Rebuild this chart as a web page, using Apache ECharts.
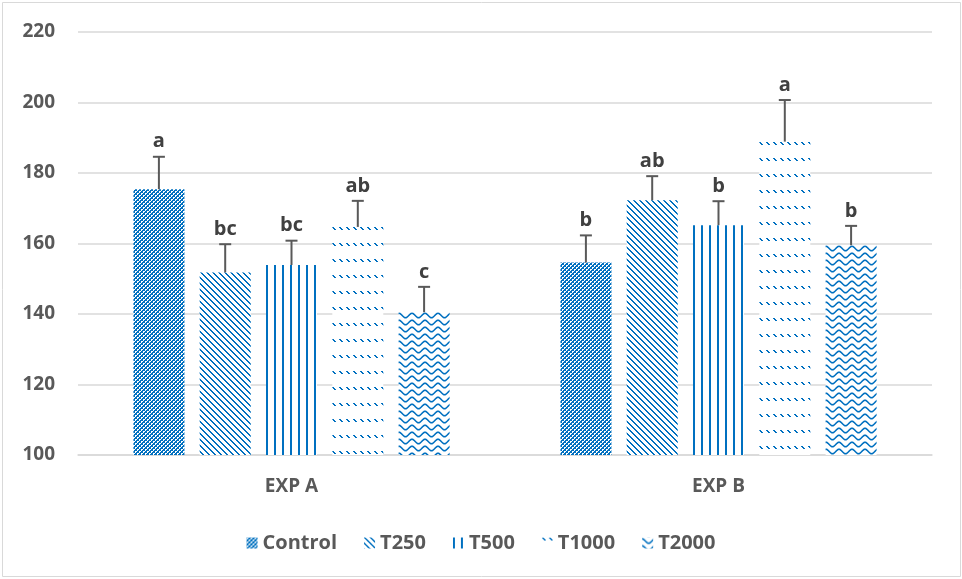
<!DOCTYPE html>
<html>
<head>
<meta charset="utf-8">
<script src="https://cdn.jsdelivr.net/npm/echarts@6/dist/echarts.min.js"></script>
<style>
  html, body { margin: 0; padding: 0; background: #ffffff; }
  #chart { width: 962px; height: 579px; }
</style>
</head>
<body>
<div id="chart"></div>
<script>
// Experiments on the x axis
const categories = ['EXP A', 'EXP B'];

// Treatment names (legend order)
const treatments = ['Control', 'T250', 'T500', 'T1000', 'T2000'];

// Mean values per treatment, one value per experiment
const controlMean = [175.4, 154.6];
const t250Mean    = [151.8, 172.3];
const t500Mean    = [153.9, 165.2];
const t1000Mean   = [164.7, 188.9];
const t2000Mean   = [140.5, 159.5];

// Upper error (standard error) per treatment
const controlErr = [9.2, 7.7];
const t250Err    = [8.0, 6.8];
const t500Err    = [6.9, 6.8];
const t1000Err   = [7.4, 11.8];
const t2000Err   = [7.2, 5.5];

// Significance letters
const controlLetters = ['a', 'b'];
const t250Letters    = ['bc', 'ab'];
const t500Letters    = ['bc', 'b'];
const t1000Letters   = ['ab', 'a'];
const t2000Letters   = ['c', 'b'];

// Y axis ticks
const yTicks = [100, 120, 140, 160, 180, 200, 220];

const means   = [controlMean, t250Mean, t500Mean, t1000Mean, t2000Mean];
const errs    = [controlErr, t250Err, t500Err, t1000Err, t2000Err];
const letters = [controlLetters, t250Letters, t500Letters, t1000Letters, t2000Letters];

const BLUE = '#0070C0';
const FONT = '"Open Sans", "Noto Sans", sans-serif';

// ---- fill patterns -------------------------------------------------------
function tile(w, h, draw) {
  const c = document.createElement('canvas');
  c.width = w; c.height = h;
  const ctx = c.getContext('2d');
  ctx.fillStyle = '#ffffff';
  ctx.fillRect(0, 0, w, h);
  ctx.fillStyle = BLUE;
  ctx.strokeStyle = BLUE;
  draw(ctx);
  return c;
}

const patterns = [
  // small checker board
  tile(4, 4, ctx => {
    ctx.fillRect(0, 0, 4, 4);
    ctx.fillStyle = '#ffffff';
    ctx.fillRect(0, 0, 2, 2);
    ctx.fillRect(2, 2, 2, 2);
    ctx.fillStyle = BLUE;
    ctx.fillRect(1, 1, 1, 1);
    ctx.fillRect(3, 3, 1, 1);
  }),
  // downward diagonal
  tile(6, 6, ctx => {
    for (let i = 0; i < 6; i++) {
      ctx.fillRect(i, i, 1, 1);
      ctx.fillRect((i + 1) % 6, i, 1, 1);
    }
  }),
  // vertical stripes
  tile(8, 1, ctx => {
    ctx.fillRect(0, 0, 2, 1);
  }),
  // dashed downward diagonal
  tile(7, 16, ctx => {
    ctx.fillRect(0, 0, 2, 1);
    ctx.fillRect(1, 1, 2, 1);
    ctx.fillRect(2, 2, 2, 1);
  }),
  // wave
  tile(13, 7, ctx => {
    ctx.lineWidth = 1.6;
    ctx.beginPath();
    for (let x = -1; x <= 14; x += 0.5) {
      const y = 3.5 - 2.2 * Math.cos((2 * Math.PI * x) / 13);
      if (x === -1) ctx.moveTo(x, y); else ctx.lineTo(x, y);
    }
    ctx.stroke();
  })
];

// ---- layout of bars within a category ----
const BAR_W = 51;
const BAR_GAP = 0.3;
const STEP = BAR_W * (1 + BAR_GAP);

const chart = echarts.init(document.getElementById('chart'), null, { renderer: 'canvas' });

function barData(i, anchor) {
  return means[i].map((v, k) => {
    if (!anchor) return v;
    const p = anchor(i, k, v);
    return {
      value: v,
      itemStyle: { color: { image: patterns[i], repeat: 'repeat', x: p[0], y: p[1] } }
    };
  });
}

function buildSeries(anchor) {
  const bars = treatments.map((name, i) => ({
    name,
    type: 'bar',
    barWidth: BAR_W,
    barGap: (BAR_GAP * 100) + '%',
    data: barData(i, anchor),
    itemStyle: { color: { image: patterns[i], repeat: 'repeat' } },
    emphasis: { disabled: true },
    z: 2
  }));

  const errorBars = treatments.map((name, i) => ({
    name: name + ' error',
    type: 'custom',
    silent: true,
    z: 5,
    encode: { x: 0, y: 1 },
    data: means[i].map((m, k) => [k, m, errs[i][k]]),
    renderItem(params, api) {
      const cat = api.value(0);
      const mean = api.value(1);
      const err = api.value(2);
      const base = api.coord([cat, mean]);
      const top = api.coord([cat, mean + err]);
      const x = base[0] + (i - 2) * STEP;
      const lineStyle = { stroke: '#595959', lineWidth: 2 };
      return {
        type: 'group',
        children: [
          { type: 'line', shape: { x1: x, y1: base[1], x2: x, y2: top[1] }, style: lineStyle },
          { type: 'line', shape: { x1: x - 6, y1: top[1], x2: x + 6, y2: top[1] }, style: lineStyle },
          {
            type: 'text',
            x: x,
            y: top[1] - 5,
            style: {
              text: letters[i][params.dataIndex],
              fill: '#404040',
              font: 'bold 20px ' + FONT,
              align: 'center',
              verticalAlign: 'bottom'
            }
          }
        ]
      };
    }
  }));
  return [...bars, ...errorBars];
}

chart.setOption({
  animation: false,
  backgroundColor: '#ffffff',
  graphic: [{
    type: 'rect',
    shape: { x: 2.5, y: 2.5, width: 958, height: 574 },
    style: { fill: 'none', stroke: '#d9d9d9', lineWidth: 1 },
    silent: true
  }],
  grid: { left: 78, right: 30, top: 32, bottom: 124, containLabel: false },
  legend: {
    data: treatments,
    left: 'center',
    top: 528,
    itemWidth: 11,
    itemHeight: 11,
    itemGap: 27,
    icon: 'rect',
    textStyle: { color: '#595959', fontSize: 20, fontWeight: 'bold', fontFamily: FONT }
  },
  xAxis: {
    type: 'category',
    data: categories,
    axisTick: { show: false },
    axisLine: { lineStyle: { color: '#d9d9d9', width: 1.5 } },
    axisLabel: { color: '#595959', fontSize: 19, fontWeight: 'bold', fontFamily: FONT, margin: 22 }
  },
  yAxis: {
    type: 'value',
    min: yTicks[0],
    max: yTicks[yTicks.length - 1],
    interval: yTicks[1] - yTicks[0],
    axisLine: { show: false },
    axisTick: { show: false },
    splitLine: { lineStyle: { color: '#d9d9d9', width: 1.5 } },
    axisLabel: { color: '#595959', fontSize: 19, fontWeight: 'bold', fontFamily: FONT, margin: 23 }
  },
  series: buildSeries(null)
});

// Anchor each bar's fill pattern at the bar's own top-left corner,
// using the axis scales to find where the bar sits.
chart.setOption({
  series: buildSeries((i, k, v) => {
    const p = chart.convertToPixel({ gridIndex: 0 }, [k, v]);
    return [Math.round(p[0] + (i - 2) * STEP - BAR_W / 2), Math.round(p[1])];
  })
});
</script>
</body>
</html>
